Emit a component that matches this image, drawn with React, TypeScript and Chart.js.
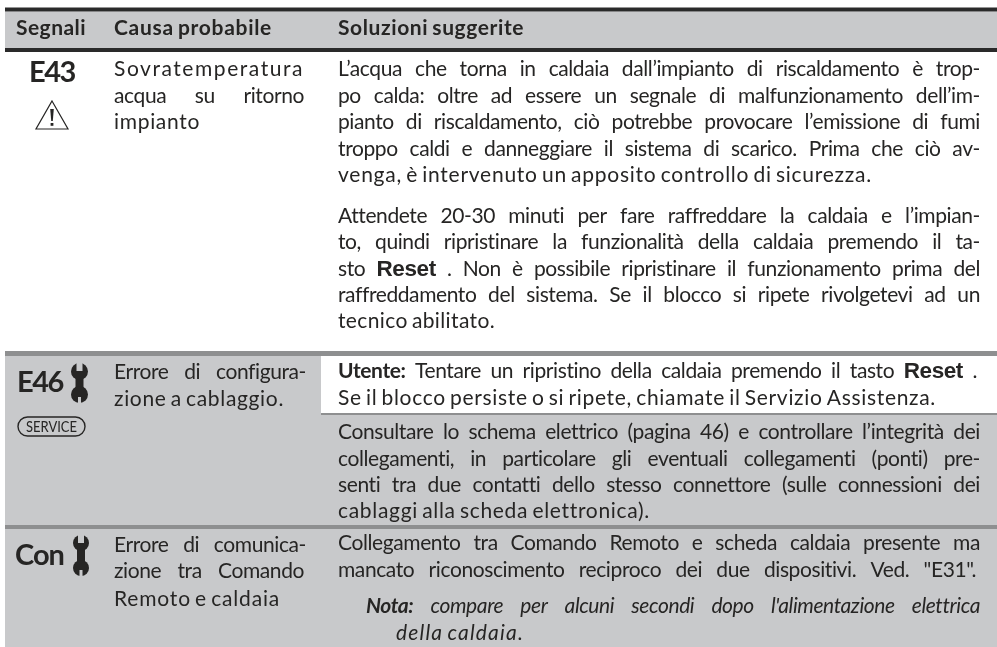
import React, { useEffect, useRef } from "react";
import { Chart, registerables } from "chart.js";

Chart.register(...registerables);

const W = 997;
const H = 647;
const BODY = "Lato";
const INK = "#262524";

// ---- text content ----
const headerLabels = ["Segnali", "Causa probabile", "Soluzioni suggerite"];
const signalCodes = ["E43", "E46", "Con"];
const serviceLabel = "SERVICE";
const causeLines = [
  "Sovratemperatura",
  "acqua su ritorno",
  "impianto",
  "Errore di configura-",
  "zione a cablaggio.",
  "Errore di comunica-",
  "zione tra Comando",
  "Remoto e caldaia",
];
// words wrapped in {b:..}, {r:..}, {n:..} take a special face
const solutionLines = [
  "L’acqua che torna in caldaia dall’impianto di riscaldamento è trop-",
  "po calda: oltre ad essere un segnale di malfunzionamento dell’im-",
  "pianto di riscaldamento, ciò potrebbe provocare l’emissione di fumi",
  "troppo caldi e danneggiare il sistema di scarico. Prima che ciò av-",
  "venga, è intervenuto un apposito controllo di sicurezza.",
  "Attendete 20-30 minuti per fare raffreddare la caldaia e l’impian-",
  "to, quindi ripristinare la funzionalità della caldaia premendo il ta-",
  "sto {r:Reset} . Non è possibile ripristinare il funzionamento prima del",
  "raffreddamento del sistema. Se il blocco si ripete rivolgetevi ad un",
  "tecnico abilitato.",
  "{b:Utente:} Tentare un ripristino della caldaia premendo il tasto {r:Reset} .",
  "Se il blocco persiste o si ripete, chiamate il Servizio Assistenza.",
  "Consultare lo schema elettrico (pagina 46) e controllare l’integrità dei",
  "collegamenti, in particolare gli eventuali collegamenti (ponti) pre-",
  "senti tra due contatti dello stesso connettore (sulle connessioni dei",
  "cablaggi alla scheda elettronica).",
  "Collegamento tra Comando Remoto e scheda caldaia presente ma",
  "mancato riconoscimento reciproco dei due dispositivi. Ved. \"E31\".",
  "{n:Nota:} compare per alcuni secondi dopo l'alimentazione elettrica",
  "della caldaia.",
];

// ---- layout, in the coordinates of the hidden scales ----
type Slot = [number, number, number, string]; // left, baseline, right, j(ustify)/f(it)
const headerSlots: Slot[] = [
  [16, 35, 86, "f"],
  [114, 35, 272, "f"],
  [338, 35, 524, "f"],
];
const signalSlots: Slot[] = [
  [29, 82, 75, "f"],
  [17, 392, 63, "f"],
  [15, 565, 64, "f"],
];
const causeSlots: Slot[] = [
  [114, 76, 304, "f"],
  [114, 103, 304, "j"],
  [114, 129, 200, "f"],
  [114, 379, 306, "j"],
  [114, 406, 284, "f"],
  [114, 552, 306, "j"],
  [114, 578, 304, "j"],
  [114, 606, 280, "f"],
];
const solutionSlots: Slot[] = [
  [338, 76, 980, "j"],
  [338, 102.5, 980, "j"],
  [338, 129, 980, "j"],
  [338, 155.5, 980, "j"],
  [338, 182, 872, "f"],
  [338, 223, 980, "j"],
  [338, 249, 980, "j"],
  [338, 276, 980, "j"],
  [338, 302, 980, "j"],
  [338, 328, 495, "f"],
  [338, 378, 977, "j"],
  [338, 405, 936, "f"],
  [338, 439, 980, "j"],
  [338, 466, 980, "j"],
  [338, 492, 980, "j"],
  [338, 518, 650, "f"],
  [338, 550, 980, "j"],
  [338, 577, 976, "j"],
  [366, 613, 980, "j"],
  [396, 640, 524, "f"],
];

// bands: left, right, top, bottom, colour
type Band = [number, number, number, number, string];
const GREY = "#c8c9cb";
const bands: Band[] = [
  [5, 997, 7.5, 11.5, "#2a2a2a"],
  [5, 997, 11.5, 48, GREY],
  [5, 997, 48, 52, "#2a2a2a"],
  [5, 997, 351, 356, "#8e8f90"],
  [5, 321, 356, 525, GREY],
  [321, 997, 356, 413, "#ffffff"],
  [321, 997, 413, 415, "#8e8f90"],
  [321, 997, 415, 525, GREY],
  [5, 997, 525, 529, "#8e8f90"],
  [5, 997, 529, 647, GREY],
];
// wrench icons: left, right, top, bottom
const wrenches = [
  [71, 88, 362, 404],
  [73, 89, 534, 577],
];
const warningTriangle = [36, 68, 101, 129];
const servicePill = [18, 85, 417, 436];

type Ctx = CanvasRenderingContext2D;

function faces(size: number, kind: string): string {
  if (kind === "b") return `bold ${size}px ${BODY}`;
  if (kind === "r") return `bold ${size + 1.5}px "Liberation Sans"`;
  if (kind === "n") return `italic bold ${size}px ${BODY}`;
  if (kind === "i") return `italic ${size}px ${BODY}`;
  return `${size}px ${BODY}`;
}

function tokens(line: string, base: string) {
  const out: { t: string; k: string }[] = [];
  const re = /\{(\w):([^}]*)\}|(\S+)/g;
  let m: RegExpExecArray | null;
  while ((m = re.exec(line))) {
    if (m[1]) out.push({ t: m[2], k: m[1] });
    else out.push({ t: m[3], k: base });
  }
  return out;
}

function drawLine(
  ctx: Ctx,
  line: string,
  slot: Slot,
  toX: (v: number) => number,
  toY: (v: number) => number,
  size: number,
  base: string,
) {
  const [l, b, r, mode] = slot;
  const left = toX(l);
  const right = toX(r);
  const toks = tokens(line, base);
  const widths = (ls: number) => {
    (ctx as any).letterSpacing = `${ls}px`;
    return toks.map((t) => {
      ctx.font = faces(size, t.k);
      return ctx.measureText(t.t).width;
    });
  };
  const sum = (a: number[]) => a.reduce((s, v) => s + v, 0);
  const natural = size * 0.2;
  const gaps = Math.max(1, toks.length - 1);
  let ls = -0.4;
  const chars = toks.reduce((s, t) => s + t.t.length, 0);
  let gap = (right - left - sum(widths(ls))) / gaps;
  if (mode === "f" || gap < natural * 0.5) {
    const target = mode === "f" ? natural : natural * 0.5;
    const excess = right - left - sum(widths(ls)) - target * (toks.length - 1);
    ls += excess / chars;
    gap = (right - left - sum(widths(ls))) / gaps;
  }
  const ws = widths(ls);
  let x = left;
  ctx.textAlign = "left";
  ctx.textBaseline = "alphabetic";
  toks.forEach((t, i) => {
    ctx.font = faces(size, t.k);
    ctx.fillText(t.t, x, toY(b));
    x += ws[i] + gap;
  });
  (ctx as any).letterSpacing = "0px";
}

function drawWrench(ctx: Ctx, x0: number, x1: number, y0: number, y1: number, bg: string) {
  const cx = (x0 + x1) / 2;
  const rad = (x1 - x0) / 2;
  ctx.fillStyle = INK;
  ctx.fillRect(cx - 4, y0 + rad, 8, y1 - y0 - 2 * rad);
  ctx.beginPath();
  ctx.arc(cx, y0 + rad + 1, rad, 0, Math.PI * 2);
  ctx.fill();
  ctx.beginPath();
  ctx.arc(cx, y1 - rad - 1, rad, 0, Math.PI * 2);
  ctx.fill();
  ctx.fillStyle = bg;
  ctx.fillRect(cx - 3, y0 - 1, 6, 10);
  ctx.fillRect(cx - 1.5, y1 - 7, 3, 8);
}

const tablePlugin = {
  id: "tableText",
  afterDatasetsDraw(chart: any) {
    const ctx: Ctx = chart.ctx;
    const xs = chart.scales.x;
    const ys = chart.scales.y;
    const toX = (v: number) => xs.getPixelForValue(v);
    const toY = (v: number) => ys.getPixelForValue(v);
    ctx.save();
    ctx.fillStyle = INK;
    headerLabels.forEach((t, i) => drawLine(ctx, t, headerSlots[i], toX, toY, 21, "b"));
    signalCodes.forEach((t, i) => drawLine(ctx, t, signalSlots[i], toX, toY, 29, "b"));
    causeLines.forEach((t, i) => drawLine(ctx, t, causeSlots[i], toX, toY, 21, ""));
    solutionLines.forEach((t, i) =>
      drawLine(ctx, t, solutionSlots[i], toX, toY, 21, i >= 18 ? "i" : ""),
    );

    wrenches.forEach(([a, b, c, d]) => {
      drawWrench(ctx, toX(a), toX(b), toY(c), toY(d), GREY);
    });

    // warning triangle
    const [tx0, tx1, ty0, ty1] = warningTriangle;
    const mx = toX((tx0 + tx1) / 2);
    ctx.strokeStyle = INK;
    ctx.lineWidth = 1.2;
    ctx.lineJoin = "miter";
    ctx.beginPath();
    ctx.moveTo(mx, toY(ty0));
    ctx.lineTo(toX(tx1), toY(ty1));
    ctx.lineTo(toX(tx0), toY(ty1));
    ctx.closePath();
    ctx.stroke();
    ctx.fillStyle = INK;
    ctx.beginPath();
    ctx.moveTo(mx - 1.8, toY(ty0 + 8));
    ctx.lineTo(mx + 1.8, toY(ty0 + 8));
    ctx.lineTo(mx + 0.8, toY(ty0 + 20));
    ctx.lineTo(mx - 0.8, toY(ty0 + 20));
    ctx.closePath();
    ctx.fill();
    ctx.fillRect(mx - 1.4, toY(ty0 + 22), 2.8, 2.8);

    // service pill
    const [px0, px1, py0, py1] = servicePill;
    ctx.strokeStyle = INK;
    ctx.lineWidth = 1.4;
    ctx.beginPath();
    (ctx as any).roundRect(toX(px0), toY(py0), toX(px1) - toX(px0), toY(py1) - toY(py0), 9.5);
    ctx.stroke();
    ctx.fillStyle = INK;
    ctx.font = `15.5px ${BODY}`;
    ctx.textAlign = "center";
    ctx.textBaseline = "alphabetic";
    ctx.fillText(serviceLabel, toX((px0 + px1) / 2), toY(py1 - 4), 51);
    ctx.restore();
  },
};

export default function App() {
  const ref = useRef<HTMLCanvasElement>(null);
  useEffect(() => {
    if (!ref.current) return;
    const chart = new Chart(ref.current, {
      type: "scatter",
      data: {
        datasets: bands.map(([x0, x1, top, bottom, color]) => ({
          data: [
            { x: x0, y: top },
            { x: x1, y: top },
          ],
          showLine: true,
          borderWidth: 0,
          pointRadius: 0,
          backgroundColor: color,
          borderColor: color,
          fill: { value: bottom },
        })),
      },
      options: {
        animation: false,
        responsive: false,
        maintainAspectRatio: false,
        layout: { padding: 0 },
        plugins: { legend: { display: false }, tooltip: { enabled: false }, title: { display: false } },
        scales: {
          x: { type: "linear", min: 0, max: W, display: false },
          y: { type: "linear", min: 0, max: H, reverse: true, display: false },
        },
      },
      plugins: [tablePlugin],
    } as any);
    return () => chart.destroy();
  }, []);
  return (
    <div style={{ position: "absolute", left: 0, top: 0, width: W, height: H, background: "#ffffff" }}>
      <canvas ref={ref} width={W} height={H} style={{ display: "block" }} />
    </div>
  );
}
